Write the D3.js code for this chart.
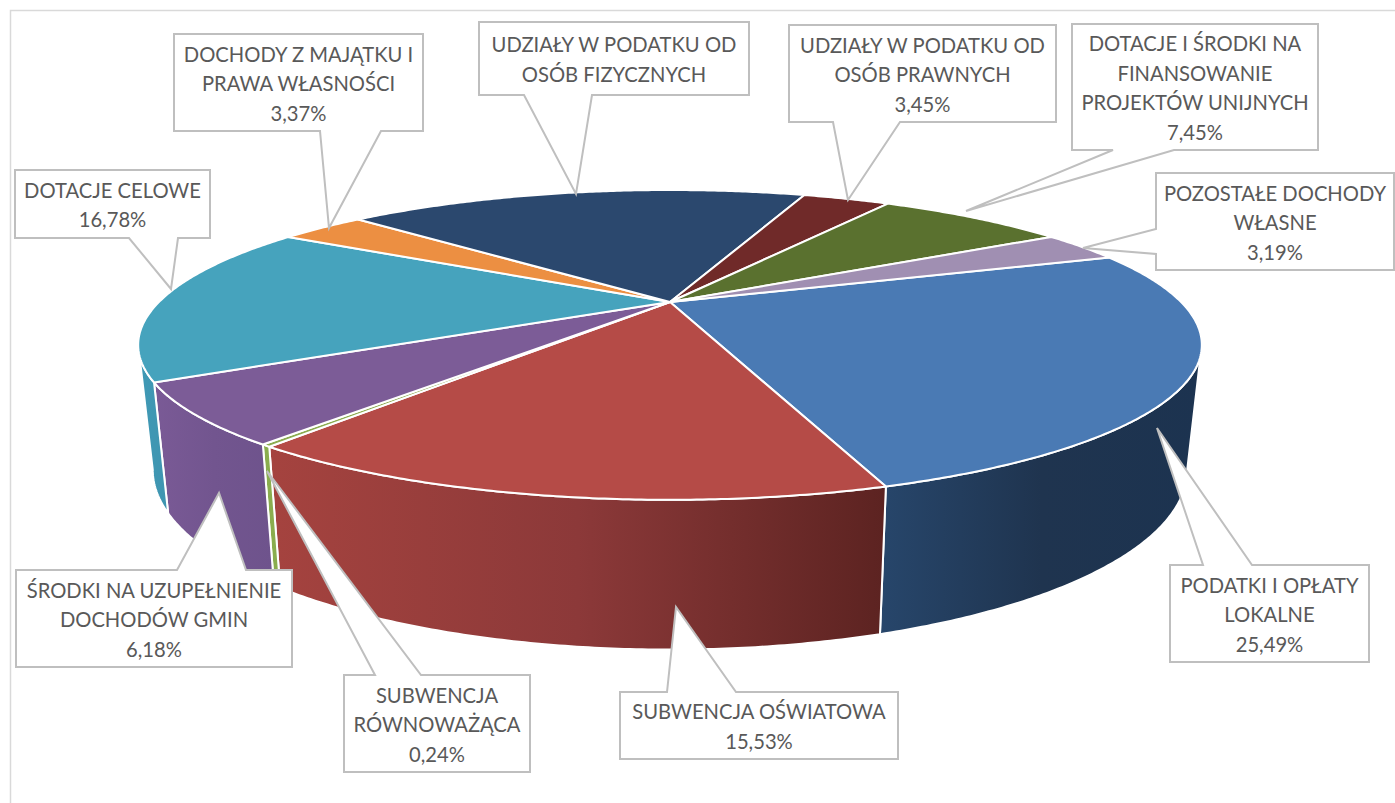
<!DOCTYPE html>
<html lang="pl">
<head>
<meta charset="utf-8">
<style>
html,body{margin:0;padding:0;background:#fff;}
svg{display:block;}
text{font-family:Lato,"Open Sans",sans-serif;fill:#595959;}
</style>
<script src="https://cdn.jsdelivr.net/npm/d3@7"></script>
</head>
<body>
<svg id="chart" width="1395" height="803"></svg>
<script>
// DATA
const categories = [
  ["PODATKI I OPŁATY","LOKALNE"],
  ["SUBWENCJA OŚWIATOWA"],
  ["SUBWENCJA","RÓWNOWAŻĄCA"],
  ["ŚRODKI NA UZUPEŁNIENIE","DOCHODÓW GMIN"],
  ["DOTACJE CELOWE"],
  ["DOCHODY Z MAJĄTKU I","PRAWA WŁASNOŚCI"],
  ["UDZIAŁY W PODATKU OD","OSÓB FIZYCZNYCH"],
  ["UDZIAŁY W PODATKU OD","OSÓB PRAWNYCH"],
  ["DOTACJE I ŚRODKI NA","FINANSOWANIE","PROJEKTÓW UNIJNYCH"],
  ["POZOSTAŁE DOCHODY","WŁASNE"]
];
const shares = [25.49,15.53,0.24,6.18,16.78,3.37,18.32,3.45,7.45,3.19];
const showShare = [true,true,true,true,true,true,false,true,true,true];
const topColors = ["#4a7ab4","#b54b47","#8bac4f","#7c5c97","#46a3bd","#ec8f42","#2b486e","#702a29","#5a712f","#a08fb2"];
const wallStops = [
  ["#27466b","#1f344f","#1c3350"],
  ["#a5433f","#8c3939","#5c2321"],
  ["#8aad4e","#8aad4e","#8aad4e"],
  ["#7a5a96","#72558f","#6e538c"],
  ["#3f99b5","#3f97b3","#3f95b0"],
  null,null,null,null,null
];
// LAYOUT of the callouts: box [x0,y0,x1,y1], wedge side, wedge start/end along side, tip [x,y]
const calloutLayout = [
  {box:[1170,565,1369,662], side:"top",    w:[1203,1252], tip:[1157,428]},
  {box:[620,692,898,759],   side:"top",    w:[667,736],   tip:[676,607]},
  {box:[344,675,530,772],   side:"top",    w:[375,421],   tip:[267,471]},
  {box:[16,570,292,667],    side:"top",    w:[177,246],   tip:[219,493]},
  {box:[15,170,210,238],    side:"bottom", w:[129,178],   tip:[171,289]},
  {box:[174,34,423,131],    side:"bottom", w:[320,381],   tip:[329,228]},
  {box:[479,22,749,95],     side:"bottom", w:[524,592],   tip:[576,194]},
  {box:[789,25,1056,122],   side:"bottom", w:[833,900],   tip:[848,200]},
  {box:[1072,24,1318,150],  side:"bottom", w:[1113,1174], tip:[966,211]},
  {box:[1156,173,1394,270], side:"left",   w:[229,254],   tip:[1083,248]}
];

const deg = Math.PI/180;
const startDeg = 70.1;
const visibleFrom = 106*deg, visibleTo = 254*deg;   // silhouettes of the disk
const persp = 0.277;
const topDisk = {cx:670, cy:302, a:511, b:143};
const botDisk = {cx:670, cy:420, a:497, b:166};
const project = (d,t) => {
  const u = Math.sin(t), v = -Math.cos(t), w = 1 - persp*v;
  return [d.cx + d.a*u/w, d.cy + d.b*v/w];
};
const arcPts = (d,t0,t1) => {
  const n = Math.max(2,Math.ceil(Math.abs(t1-t0)/(0.5*deg)));
  return d3.range(n+1).map(i => project(d,t0+(t1-t0)*i/n));
};
const line = d3.line();
const fmt = d3.formatLocale({decimal:",",thousands:" ",grouping:[3],currency:["",""]}).format(".2f");

const pie = d3.pie().sort(null).value(d=>d).startAngle(startDeg*deg).endAngle((startDeg+360)*deg);
const slices = pie(shares);

const svg = d3.select("#chart");
const defs = svg.append("defs");

// outer frame of the chart area
svg.append("path").attr("d","M10.5 803V10.5H1395").attr("fill","none").attr("stroke","#d9d9d9").attr("stroke-width",1.5);

// side walls
const gWalls = svg.append("g");
slices.forEach((s,i)=>{
  const t0 = Math.max(s.startAngle,visibleFrom), t1 = Math.min(s.endAngle,visibleTo);
  if(t1<=t0 || !wallStops[i]) return;
  const up = arcPts(topDisk,t0,t1), dn = arcPts(botDisk,t0,t1).reverse();
  const pts = up.concat(dn);
  const xr = d3.extent(pts,p=>p[0]);
  const g = defs.append("linearGradient").attr("id","wall"+i)
    .attr("gradientUnits","userSpaceOnUse")
    .attr("x1",xr[0]).attr("x2",xr[1]).attr("y1",0).attr("y2",0);
  wallStops[i].forEach((c,k)=>g.append("stop").attr("offset",k/2).attr("stop-color",c));
  gWalls.append("path").attr("d",line(pts)+"Z").attr("fill",`url(#wall${i})`)
    .attr("stroke","#fff").attr("stroke-width",2).attr("stroke-linejoin","round");
});

// top face
const gTop = svg.append("g");
slices.forEach((s,i)=>{
  const pts = [[topDisk.cx,topDisk.cy]].concat(arcPts(topDisk,s.startAngle,s.endAngle));
  gTop.append("path").attr("d",line(pts)+"Z").attr("fill",topColors[i])
    .attr("stroke","#fff").attr("stroke-width",2).attr("stroke-linejoin","round");
});

// callouts
const gLab = svg.append("g");
const lineH = 29.5;
calloutLayout.forEach((c,i)=>{
  const [x0,y0,x1,y1] = c.box, [a,b] = c.w;
  let pts;
  if(c.side==="top") pts=[[x0,y0],[a,y0],c.tip,[b,y0],[x1,y0],[x1,y1],[x0,y1]];
  else if(c.side==="bottom") pts=[[x0,y0],[x1,y0],[x1,y1],[b,y1],c.tip,[a,y1],[x0,y1]];
  else pts=[[x0,y0],[x1,y0],[x1,y1],[x0,y1],[x0,b],c.tip,[x0,a]];
  gLab.append("path").attr("d",line(pts)+"Z").attr("fill","#fff")
    .attr("stroke","#bfbfbf").attr("stroke-width",2).attr("stroke-linejoin","miter");
  const rows = categories[i].concat(showShare[i]?[fmt(shares[i])+"%"]:[]);
  const cx=(x0+x1)/2, cy=(y0+y1)/2;
  rows.forEach((r,k)=>{
    gLab.append("text").attr("x",cx).attr("y",cy+(k-(rows.length-1)/2)*lineH+8.5)
      .attr("text-anchor","middle").attr("font-size",20.2).text(r);
  });
});
</script>
</body>
</html>
